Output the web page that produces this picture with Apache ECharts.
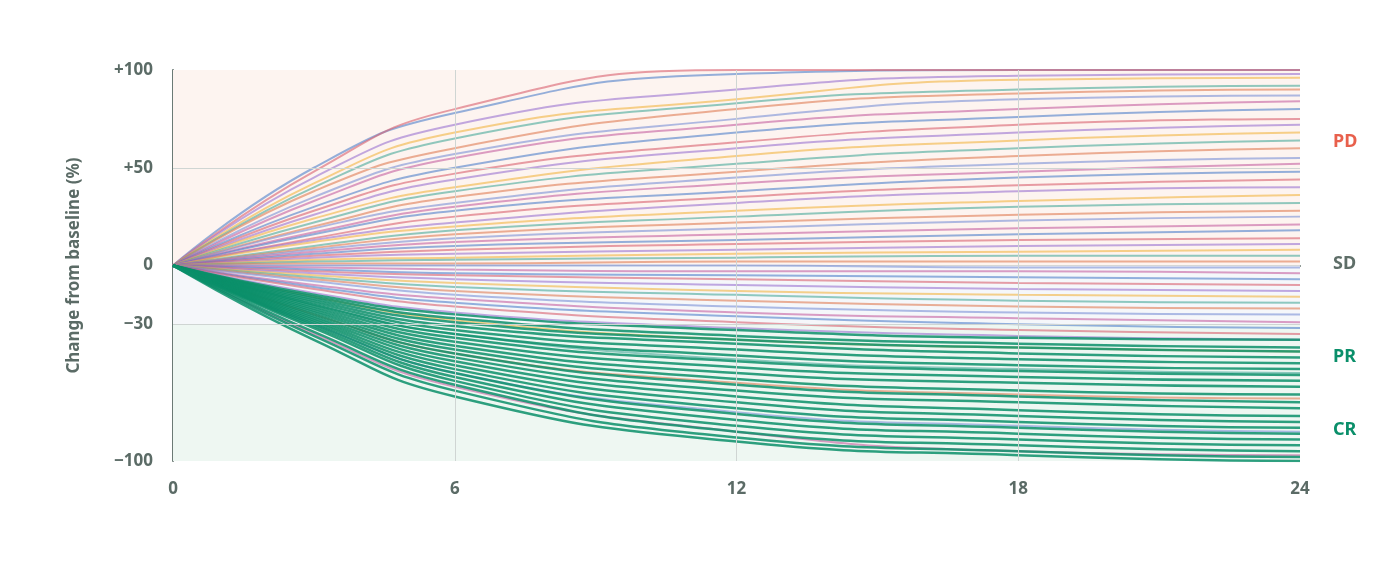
<!DOCTYPE html>
<html><head><meta charset="utf-8">
<script src="https://cdn.jsdelivr.net/npm/echarts@6/dist/echarts.min.js"></script>
<style>html,body{margin:0;background:#fff}#c{width:1400px;height:564px}</style>
</head><body><div id="c"></div>
<script>
var months = [0, 3, 6, 12, 18, 24];
var yTicks = [100, 50, 0, -30, -100];
var bandLabels = ['PD', 'SD', 'PR', 'CR'];
var bandLabelValues = [62, 0, -48, -85];
var bandColors = ['#e8604c', '#5e6e68', '#0a8f6a', '#0a8f6a'];
var otherLines = [
  [0,50,78,98,100,100],[0,48,80,100,100,100],
  [0,45,72,90,97,98],[0,42,68,85,95,96],[0,40,65,83,90,92],[0,38,60,80,88,90],
  [0,35,57,75,85,87],[0,33,55,72,80,84],[0,30,50,68,76,80],[0,28,47,63,72,75],
  [0,26,44,60,68,72],[0,24,40,56,64,68],[0,22,38,52,60,64],[0,20,35,48,56,60],
  [0,19,32,45,52,55],[0,17,30,42,48,52],[0,16,28,38,45,48],[0,14,25,35,41,44],
  [0,13,22,32,38,40],[0,12,20,28,33,36],[0,10,18,25,30,32],[0,9,16,22,26,28],
  [0,8,14,19,23,25],[0,7,12,16,19,21],[0,6,10,13,16,18],[0,5,8,11,13,14],
  [0,4,6,8,10,11],[0,3,4,6,7,8],[0,2,3,4,5,5],[0,1,1,2,2,2],[0,0,0,0,-1,-1],
  [0,-1,-2,-3,-3,-4],[0,-2,-4,-5,-6,-7],[0,-3,-5,-7,-9,-10],[0,-4,-7,-10,-12,-13],
  [0,-5,-9,-13,-15,-16],[0,-6,-11,-15,-18,-19],[0,-7,-13,-18,-21,-22],
  [0,-8,-15,-21,-24,-25],[0,-10,-17,-24,-27,-29],[0,-11,-19,-26,-30,-32],
  [0,-12,-21,-29,-33,-35],[0,-14,-24,-32,-36,-38],[0,-16,-28,-38,-42,-44],
  [0,-20,-35,-48,-53,-55],[0,-25,-45,-60,-66,-68],[0,-30,-55,-75,-82,-85],
  [0,-35,-62,-85,-95,-97]
];
var responderLines = [
  [0,-15,-25,-33,-37,-38],[0,-16,-27,-36,-40,-42],[0,-17,-29,-38,-42,-44],
  [0,-18,-31,-40,-45,-47],[0,-19,-33,-43,-48,-50],[0,-20,-35,-46,-51,-53],
  [0,-21,-37,-49,-54,-56],[0,-22,-39,-52,-57,-59],[0,-23,-41,-55,-60,-62],
  [0,-24,-43,-58,-64,-66],[0,-25,-45,-61,-67,-70],[0,-26,-47,-64,-70,-73],
  [0,-27,-49,-67,-74,-77],[0,-28,-51,-70,-77,-80],[0,-29,-53,-73,-80,-83],
  [0,-30,-55,-76,-83,-86],[0,-31,-57,-79,-86,-89],[0,-32,-59,-82,-89,-92],
  [0,-34,-61,-85,-92,-95],[0,-36,-64,-88,-95,-98],[0,-38,-67,-90,-97,-100]
];
var palette = ['#4f7fc9','#d95f6e','#9a72d1','#f2b441','#47a89a','#e07b54','#7a8fd6','#c45fa0'];

var chart = echarts.init(document.getElementById('c'));
var series = [];
function pairs(row){ return row.map(function(v,i){ return [months[i], v]; }); }
otherLines.forEach(function(row, i){
  series.push({type:'line', data:pairs(row), smooth:true, symbol:'none', silent:true,
    lineStyle:{width:2, color:palette[i % palette.length], opacity:0.6}});
});
responderLines.forEach(function(row){
  series.push({type:'line', data:pairs(row), smooth:true, symbol:'none', silent:true,
    lineStyle:{width:2.5, color:'#0a8f6a', opacity:0.85}});
});
// background bands and grid lines
series.unshift({type:'line', data:[], silent:true,
  markArea:{silent:true, data:[
    [{yAxis:0, itemStyle:{color:'#fdf4f0'}},{yAxis:100}],
    [{yAxis:-30, itemStyle:{color:'#f5f7fa'}},{yAxis:0}],
    [{yAxis:-100, itemStyle:{color:'#eef7f2'}},{yAxis:-30}]
  ]},
  markLine:{silent:true, symbol:'none', label:{show:false},
    lineStyle:{color:'#cfd5d3', type:'solid', width:1},
    data:[{yAxis:50},{yAxis:-30},{xAxis:6},{xAxis:12},{xAxis:18}]}
});
var gfx = bandLabels.map(function(t, i){
  return {type:'text', left:1333, top:265.5 - bandLabelValues[i]*1.955 - 11,
    style:{text:t, fill:bandColors[i], font:'bold 18px "Noto Sans"'}};
});
chart.setOption({
  animation:false,
  grid:{left:173, right:100, top:70, bottom:103},
  xAxis:{type:'value', min:0, max:24, interval:6,
    axisLine:{lineStyle:{color:'#6b7a75', width:2}}, axisTick:{show:false},
    splitLine:{show:false},
    axisLabel:{color:'#5b6b66', fontWeight:'bold', fontSize:17, fontFamily:'Noto Sans', margin:20}},
  yAxis:{type:'value', min:-100, max:100, interval:10,
    name:'Change from baseline (%)', nameLocation:'middle', nameGap:90, nameRotate:90,
    nameTextStyle:{color:'#5b6b66', fontWeight:'bold', fontSize:17, fontFamily:'Noto Sans'},
    axisLine:{show:true, lineStyle:{color:'#6b7a75', width:2}}, axisTick:{show:false},
    splitLine:{show:false},
    axisLabel:{color:'#5b6b66', fontWeight:'bold', fontSize:17, fontFamily:'Noto Sans', margin:20,
      formatter:function(v){ if (yTicks.indexOf(v) < 0) return ''; return v > 0 ? '+' + v : (v < 0 ? '\u2212' + (-v) : '0'); }}},
  graphic:gfx,
  series:series
});
</script></body></html>
